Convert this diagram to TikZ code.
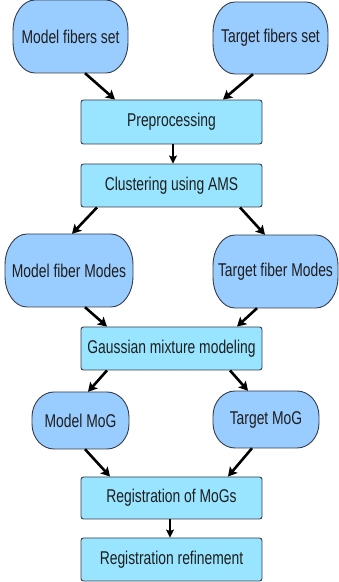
\documentclass[tikz,border=0pt]{standalone}
\usepackage{fontspec}
\setmainfont{Liberation Sans}[FakeStretch=0.75]
\usetikzlibrary{arrows.meta,calc}
\definecolor{capfill}{RGB}{153,204,255}
\definecolor{boxfill}{RGB}{153,229,255}
\definecolor{edgecol}{RGB}{55,60,75}
\definecolor{txtcol}{RGB}{30,30,30}
\tikzset{
  capshape/.style={fill=capfill,draw=edgecol,line width=0.9pt},
  captext/.style={draw=none,inner sep=0pt,text=txtcol,font=\fontsize{18.5}{21}\selectfont},
  stepbox/.style={rectangle,fill=boxfill,draw=edgecol,line width=0.9pt,rounded corners=2.5pt,
     minimum width=181pt,minimum height=43pt,inner sep=0pt,text=txtcol,font=\fontsize{18.5}{21}\selectfont},
  thickarrow/.style={line width=2.6pt,-{Stealth[length=9pt,width=10pt,inset=2pt]}},
  thinarrow/.style={line width=1.8pt,-{Stealth[length=8pt,width=8pt,inset=1.5pt]}}
}
% name, cx, cy, w, h, ry, text
\newcommand\capsule[7]{%
  \path[capshape] ({#2-#4/2+22},{#3+#5/2}) -- ({#2+#4/2-22},{#3+#5/2})
    arc[start angle=90,end angle=0,x radius=22pt,y radius=#6pt]
    -- ({#2+#4/2},{#3-#5/2+#6})
    arc[start angle=0,end angle=-90,x radius=22pt,y radius=#6pt]
    -- ({#2-#4/2+22},{#3-#5/2})
    arc[start angle=270,end angle=180,x radius=22pt,y radius=#6pt]
    -- ({#2-#4/2},{#3+#5/2-#6})
    arc[start angle=180,end angle=90,x radius=22pt,y radius=#6pt] -- cycle;
  \node[captext,minimum width=#4pt,minimum height=#5pt] (#1) at (#2,#3) {#7};
}
\begin{document}
\begin{tikzpicture}[x=1pt,y=1pt]
\useasboundingbox (0,0) rectangle (339,582);
\capsule{mf}{70.5}{545.5}{115}{73}{31}{Model fibers set}
\capsule{tf}{270.5}{544}{115}{72}{31}{Target fibers set}
\node[stepbox,minimum height=44pt] (pre) at (171.5,460) {Preprocessing};
\node[stepbox] (clu) at (171.5,396.5) {Clustering using AMS};
\capsule{mm}{69}{311.5}{128}{73}{31}{Model fiber Modes}
\capsule{tm}{275.5}{310.5}{125}{73}{31}{Target fiber Modes}
\node[stepbox] (gmm) at (171.5,233.5) {Gaussian mixture modeling};
\capsule{mmog}{80.5}{161.5}{97}{57}{25}{Model MoG}
\capsule{tmog}{266}{162.5}{106}{57}{25}{Target MoG}
\node[stepbox,minimum height=42pt] (reg) at (171.5,84) {Registration of MoGs};
\node[stepbox] (ref) at (171.5,22.5) {Registration refinement};

\draw[thickarrow] ($(mf.south)+(14.5,0)$) -- ($(pre.north)+(-56.5,0)$);
\draw[thickarrow] ($(tf.south)+(-17.5,0)$) -- ($(pre.north)+(51.5,0)$);
\draw[thinarrow] ($(pre.south)+(1.5,0)$) -- ($(clu.north)+(1.5,0)$);
\draw[thickarrow] ($(clu.south)+(-74.5,0)$) -- ($(mm.north)+(3,0)$);
\draw[thickarrow] ($(clu.south)+(68.5,0)$) -- ($(tm.north)+(-10.5,0)$);
\draw[thickarrow] ($(mm.south)+(16,0)$) -- ($(gmm.north)+(-64.5,0)$);
\draw[thickarrow] ($(tm.south)+(-18.5,0)$) -- ($(gmm.north)+(65.5,0)$);
\draw[thickarrow] ($(gmm.south)+(-64.5,0)$) -- ($(mmog.north)+(7.5,0)$);
\draw[thickarrow] ($(gmm.south)+(58.5,0)$) -- ($(tmog.north)+(-18,0)$);
\draw[thickarrow] ($(mmog.south)+(4.5,0)$) -- ($(reg.north)+(-61.5,0)$);
\draw[thickarrow] ($(tmog.south)+(-14,0)$) -- ($(reg.north)+(56.5,0)$);
\draw[thinarrow] ($(reg.south)+(-1.5,0)$) -- ($(ref.north)+(-1.5,0)$);
\end{tikzpicture}
\end{document}
